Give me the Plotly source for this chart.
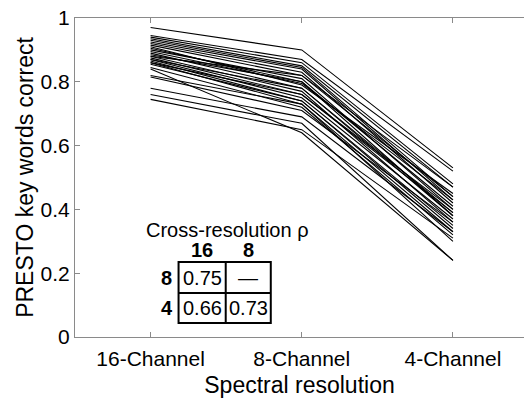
import plotly.graph_objects as go

categories = ["16-Channel", "8-Channel", "4-Channel"]

ch16 = [0.97, 0.945, 0.94, 0.935, 0.93, 0.925, 0.92, 0.915, 0.905, 0.90,
        0.895, 0.89, 0.885, 0.88, 0.875, 0.87, 0.865, 0.86, 0.855, 0.845,
        0.84, 0.82, 0.815, 0.78, 0.76, 0.745, 0.91, 0.88, 0.87, 0.86]
ch8 = [0.90, 0.87, 0.86, 0.85, 0.845, 0.84, 0.83, 0.82, 0.80, 0.81,
       0.795, 0.78, 0.80, 0.77, 0.76, 0.75, 0.74, 0.73, 0.74, 0.72,
       0.64, 0.73, 0.71, 0.69, 0.67, 0.65, 0.79, 0.82, 0.78, 0.76]
ch4 = [0.53, 0.52, 0.48, 0.47, 0.44, 0.43, 0.42, 0.44, 0.41, 0.40,
       0.43, 0.39, 0.38, 0.36, 0.40, 0.37, 0.34, 0.33, 0.35, 0.32,
       0.24, 0.30, 0.36, 0.33, 0.24, 0.31, 0.45, 0.47, 0.38, 0.39]

yticks = [0, 0.2, 0.4, 0.6, 0.8, 1]
ytick_text = ["0", "0.2", "0.4", "0.6", "0.8", "1"]

table_title = "Cross-resolution ρ"
col_headers = ["16", "8"]
row_headers = ["8", "4"]
table_values = [["0.75", "—"], ["0.66", "0.73"]]

FONT = "Liberation Sans, Arial, sans-serif"

fig = go.Figure()
xs = list(range(len(categories)))
for a, b, c in zip(ch16, ch8, ch4):
    fig.add_trace(go.Scatter(x=xs, y=[a, b, c], mode="lines",
                             line=dict(color="black", width=1.1),
                             showlegend=False, hoverinfo="skip"))

# table annotation
x0, x1, xm = 0.185, 0.795, 0.497
y0, y1, ym = 0.044, 0.235, 0.138
fig.add_shape(type="rect", xref="x", yref="y", x0=x0, x1=x1, y0=y0, y1=y1,
              line=dict(color="black", width=2))
fig.add_shape(type="line", xref="x", yref="y", x0=xm, x1=xm, y0=y0, y1=y1,
              line=dict(color="black", width=2))
fig.add_shape(type="line", xref="x", yref="y", x0=x0, x1=x1, y0=ym, y1=ym,
              line=dict(color="black", width=2))

fig.add_annotation(x=0.51, y=0.335, xref="x", yref="y", text=table_title,
                   showarrow=False, font=dict(size=20, color="black", family=FONT))
col_x = [0.341, 0.645]
row_y = [0.186, 0.091]
for cx, h in zip(col_x, col_headers):
    fig.add_annotation(x=cx, y=0.272, xref="x", yref="y", text="<b>%s</b>" % h,
                       showarrow=False, font=dict(size=20, color="black", family=FONT))
for ry, h in zip(row_y, row_headers):
    fig.add_annotation(x=0.106, y=ry, xref="x", yref="y", text="<b>%s</b>" % h,
                       showarrow=False, font=dict(size=20, color="black", family=FONT))
for ri, ry in enumerate(row_y):
    for ci, cx in enumerate(col_x):
        fig.add_annotation(x=cx, y=ry, xref="x", yref="y", text=table_values[ri][ci],
                           showarrow=False, font=dict(size=20, color="black", family=FONT))

axis_color = "#8a8a8a"
fig.update_layout(
    width=524, height=398,
    margin=dict(l=75, r=0, t=18, b=61),
    paper_bgcolor="white", plot_bgcolor="white",
    font=dict(family=FONT, color="black"),
    xaxis=dict(range=[-0.5, 2.47], tickvals=xs, ticktext=categories,
               ticks="inside", ticklen=5, tickcolor=axis_color,
               showline=True, linecolor=axis_color, linewidth=1, mirror="ticks",
               showgrid=False, zeroline=False, ticklabelstandoff=3,
               tickfont=dict(size=21, color="black"),
               title=dict(text="Spectral resolution", font=dict(size=23, color="black"), standoff=11)),
    yaxis=dict(range=[0, 1], tickvals=yticks, ticktext=ytick_text,
               ticks="inside", ticklen=5, tickcolor=axis_color,
               showline=True, linecolor=axis_color, linewidth=1,
               showgrid=False, zeroline=False,
               tickfont=dict(size=21, color="black"),
               title=dict(text="PRESTO key words correct", font=dict(size=23, color="black"), standoff=0)),
)

fig.write_html("out.html")
